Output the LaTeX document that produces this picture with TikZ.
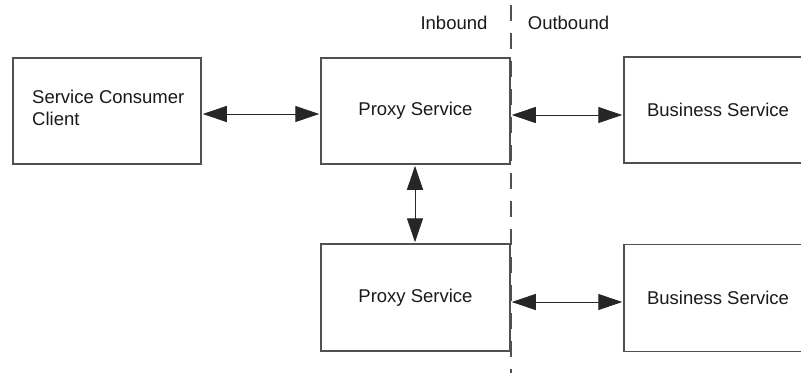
\documentclass[tikz,border=0pt]{standalone}
\usepackage{fontspec}
\setmainfont{Liberation Sans}
\usetikzlibrary{arrows.meta}
\definecolor{boxgray}{HTML}{505050}
\definecolor{txt}{HTML}{1A1A1A}
\begin{document}
\begin{tikzpicture}[x=1pt,y=-1pt,
  box/.style={draw=boxgray,line width=1.5pt,fill=white,minimum width=188pt,minimum height=106pt,inner sep=0pt},
  lbl/.style={text=txt,font=\fontsize{18.5}{22}\selectfont,inner sep=0pt},
  link/.style={draw=black!85,line width=1pt,{Triangle[length=24pt,width=16pt]}-{Triangle[length=24pt,width=16pt]},shorten <=1pt,shorten >=1pt}]
\useasboundingbox (0,0) rectangle (801,373);
\fill[white] (0,0) rectangle (801,373);
% boxes
\node[box] (client) at (107,111) {};
\node[box,minimum width=189pt] (proxyA) at (415.5,111) {};
\node[box,minimum width=189pt,minimum height=107pt] (proxyB) at (415.5,297.5) {};
\node[box] (busA) at (718,110) {};
\node[box,minimum height=107pt] (busB) at (718,298) {};
% texts
\node[lbl,align=left,anchor=west] (clienttext) at (32,107.5) {Service Consumer\\Client};
\node[lbl] (proxyAtext) at (proxyA.center) {Proxy Service};
\node[lbl] (proxyBtext) at (proxyB.center) {Proxy Service};
\node[lbl] (busAtext) at (busA.center) {Business Service};
\node[lbl] (busBtext) at (busB.center) {Business Service};
\node[lbl,anchor=base] (inbound) at (454,29) {Inbound};
\node[lbl,anchor=base] (outbound) at (568.5,29) {Outbound};
% dashed divider
\coordinate (dtop) at (511,5);
\coordinate (dbot) at (511,373);
\draw[boxgray,line width=1.4pt,dash pattern=on 16pt off 12pt] (dtop) -- (dbot);
% connectors
\draw[link] (client.east |- 0,114) -- (proxyA.west |- 0,114);
\draw[link] (proxyA.east |- 0,115) -- (busA.west |- 0,115);
\draw[link] (proxyB.east |- 0,302) -- (busB.west |- 0,302);
\draw[link] (proxyA.south -| 415,0) -- (proxyB.north -| 415,0);
\end{tikzpicture}
\end{document}
